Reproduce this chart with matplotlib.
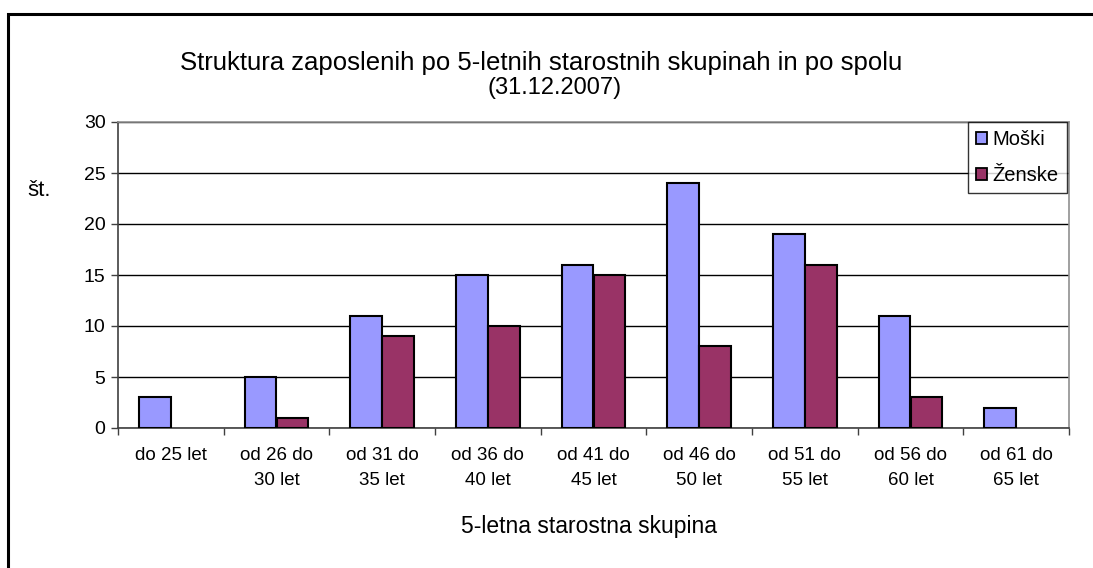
import matplotlib
matplotlib.use("Agg")
import matplotlib.pyplot as plt
import numpy as np
from matplotlib.patches import Rectangle

plt.rcParams['font.family'] = ['Liberation Sans', 'DejaVu Sans']

# data
skupine = ["do 25 let", "od 26 do\n30 let", "od 31 do\n35 let", "od 36 do\n40 let",
           "od 41 do\n45 let", "od 46 do\n50 let", "od 51 do\n55 let",
           "od 56 do\n60 let", "od 61 do\n65 let"]
moski = [3, 5, 11, 15, 16, 24, 19, 11, 2]
zenske = [0, 1, 9, 10, 15, 8, 16, 3, 0]

naslov = "Struktura zaposlenih po 5-letnih starostnih skupinah in po spolu"
podnaslov = "(31.12.2007)"

W, H = 1093, 568
fig = plt.figure(figsize=(W/100, H/100), dpi=100)
ax = fig.add_axes([118/W, 1-428/H, (1069-118)/W, (428-122)/H])

x = np.arange(len(skupine))
bw = 0.3
# no outline for empty bars (Excel draws nothing there)
lw_m = [1.5 if v > 0 else 0 for v in moski]
lw_z = [1.5 if v > 0 else 0 for v in zenske]
ax.bar(x - bw/2, moski, bw, color='#9999FF', edgecolor='black', linewidth=lw_m,
       label='Moški', zorder=3)
ax.bar(x + bw/2, zenske, bw, color='#993366', edgecolor='black', linewidth=lw_z,
       label='Ženske', zorder=3)

ax.set_xlim(-0.5, len(skupine) - 0.5)
ax.set_ylim(0, 30)
ax.set_yticks(range(0, 31, 5))
ax.yaxis.grid(True, color='black', linewidth=1, zorder=0)
ax.set_axisbelow(True)

# ticks between the categories, labels centered
ax.set_xticks(np.arange(-0.5, len(skupine), 1))
ax.set_xticklabels([])
ax.set_xticks(x, minor=True)
ax.set_xticklabels(skupine, minor=True, fontsize=13.5, linespacing=1.6)
ax.tick_params(axis='x', which='minor', length=0, pad=14)
ax.tick_params(axis='x', which='major', length=5, width=1, color='#404040')
ax.tick_params(axis='y', length=5, width=1, color='#404040', labelsize=14, pad=4)

for s in ['top', 'right']:
    ax.spines[s].set_color('#909090')
    ax.spines[s].set_linewidth(1.2)
for s in ['left', 'bottom']:
    ax.spines[s].set_color('#404040')
    ax.spines[s].set_linewidth(1.2)

fig.text(541/W, 1-63/H, naslov, ha='center', va='center', fontsize=18.5)
fig.text(555/W, 1-88/H, podnaslov, ha='center', va='center', fontsize=17)
fig.text(39/W, 1-190/H, "št.", ha='center', va='center', fontsize=16)
fig.text(589/W, 1-527/H, "5-letna starostna skupina", ha='center', va='center', fontsize=16.5)

leg = ax.legend(loc='upper right', bbox_to_anchor=(1067/W, 1-122/H),
                bbox_transform=fig.transFigure, frameon=True, fancybox=False,
                edgecolor='black', fontsize=14.5, handlelength=0.55, handleheight=0.55,
                handletextpad=0.3, labelspacing=0.85, borderpad=0.4, borderaxespad=0)
leg.get_frame().set_linewidth(1)
for h in leg.legend_handles:
    h.set_linewidth(1.3)
    h.set_edgecolor('black')
leg.set_zorder(5)

# outer chart border
fig.patches.append(Rectangle((8/W, -0.05), 1.2, (1-14/H) + 0.05, transform=fig.transFigure,
                             fill=False, edgecolor='black', linewidth=2.2))

fig.savefig("out.png", dpi=100)
